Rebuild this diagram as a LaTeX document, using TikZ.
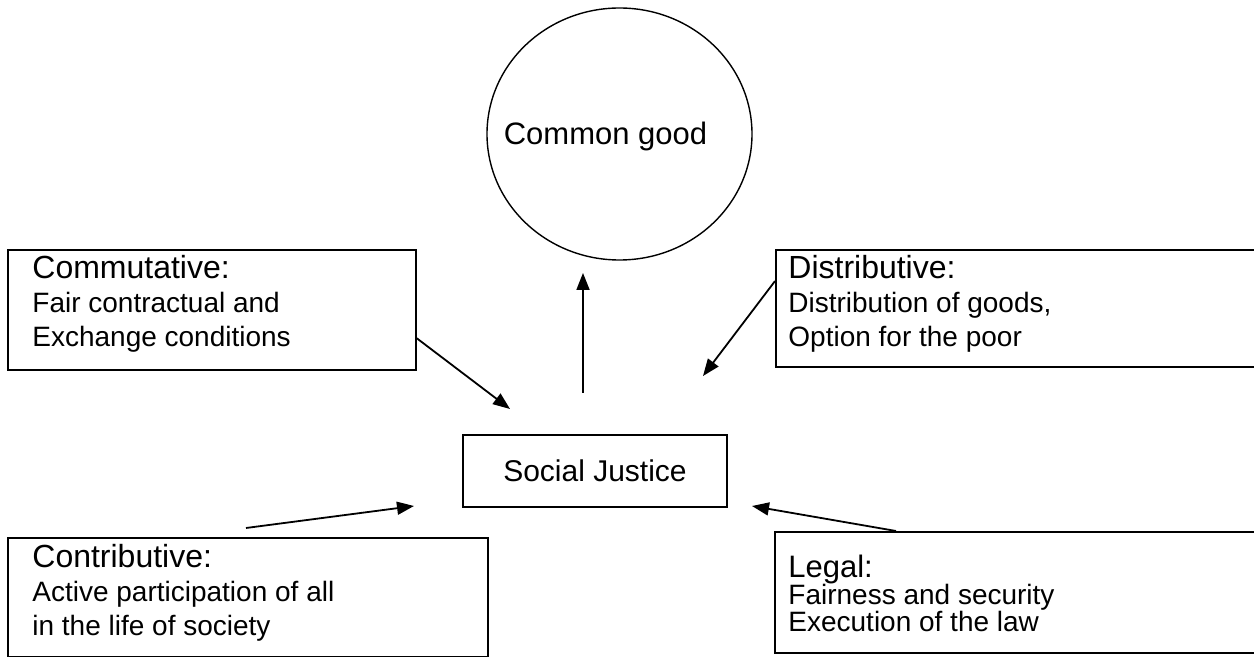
\documentclass[tikz,border=0pt]{standalone}
\usepackage{fontspec}
\setmainfont{Liberation Sans}
\usetikzlibrary{arrows.meta,calc}

\tikzset{
  box/.style={draw, line width=0.9pt, inner sep=0pt, anchor=north west},
  boxtext/.style={anchor=north west, inner sep=0pt, align=left, font=\fontsize{14}{17}\selectfont},
  arr/.style={line width=0.9pt, -{Triangle[length=8.5pt,width=6.5pt]}},
}
% first line of a box: a bit larger, with a fixed top
\newcommand{\headline}[1]{{\fontsize{16}{17}\selectfont\rule{0pt}{14pt}#1}}

\begin{document}
\begin{tikzpicture}[x=0.5pt,y=-0.5pt]
  \useasboundingbox (0,0) rectangle (1254,657);

  %Shape: Ellipse
  \coordinate (cg) at (619.5,134);
  \draw[line width=0.7pt] (cg) ellipse [x radius=132.5, y radius=126];
  % Text Node
  \node[anchor=base, inner sep=0pt, font=\fontsize{15.5}{18}\selectfont] (cgtext) at (605.5,145) {Common good};

  %Shape: Rectangle
  \node[draw, line width=0.9pt, minimum width=132pt, minimum height=36pt, inner sep=0pt, font=\fontsize{15}{18}\selectfont] (sj) at (595,471) {Social Justice};

  %Shape: Rectangle
  \node[box, minimum width=204pt, minimum height=60pt] (comm) at (7,249) {};
  \node[boxtext] (commtext) at (32,250) {\headline{Commutative:}\\ Fair contractual and\\ Exchange conditions};

  %Shape: Rectangle
  \node[box, minimum width=250pt, minimum height=58.5pt] (dist) at (775,249) {};
  \node[boxtext] (disttext) at (788,250) {\headline{Distributive:}\\ Distribution of goods,\\ Option for the poor};

  %Shape: Rectangle
  \node[box, minimum width=240pt, minimum height=59.5pt] (contr) at (7,537) {};
  \node[boxtext] (contrtext) at (32,539) {\headline{Contributive:}\\ Active participation of all\\ in the life of society};

  %Shape: Rectangle
  \node[box, minimum width=250pt, minimum height=60.5pt] (legal) at (774,531) {};
  \node[boxtext, font=\fontsize{14}{13.5}\selectfont] (legaltext) at (788,549) {{\fontsize{15.5}{13.5}\selectfont\rule{0pt}{14pt}Legal:}\\ Fairness and security\\ Execution of the law};

  % arrow ends
  \coordinate (commtip) at (510,409);
  \coordinate (upfoot) at (583,393);
  \coordinate (uptip) at (583,273);
  \coordinate (disttip) at (703,376);
  \coordinate (contrtip) at (414,506);
  \coordinate (legaltip) at (752,506);

  %Straight Lines
  \draw[arr] ($(comm.north east)!0.733!(comm.south east)$) -- (commtip);
  \draw[arr] (upfoot) -- (uptip);
  \draw[arr] ($(dist.north west)!0.27!(dist.south west)$) -- (disttip);
  \draw[arr] ($(contr.north west)+(239,-9)$) -- (contrtip);
  \draw[arr] ($(legal.north west)+(122,0)$) -- (legaltip);
\end{tikzpicture}
\end{document}
